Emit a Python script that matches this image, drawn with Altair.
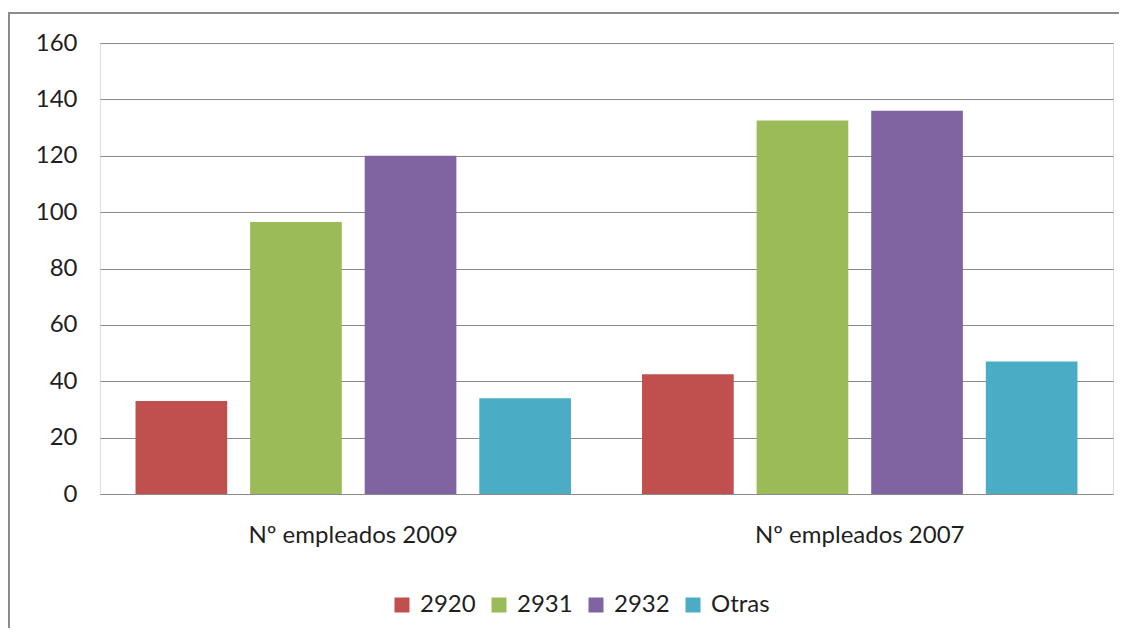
import altair as alt
import pandas as pd

groups = ["Nº empleados 2009", "Nº empleados 2007"]
series = ["2920", "2931", "2932", "Otras"]
values_2009 = [33, 96.5, 120, 34]
values_2007 = [42.5, 132.5, 136, 47]
colors = ["#C0504D", "#9BBB59", "#8064A2", "#4BACC6"]
y_ticks = [0, 20, 40, 60, 80, 100, 120, 140, 160]

rows = []
for g, vals in zip(groups, [values_2009, values_2007]):
    for s, v in zip(series, vals):
        rows.append({"grupo": g, "serie": s, "valor": v})
df = pd.DataFrame(rows)

FONT = "Lato"
TXT = "#1f1f1f"
FS = 24

bars = alt.Chart(df).mark_bar().encode(
    x=alt.X("grupo:N", sort=groups, title=None,
            scale=alt.Scale(paddingInner=0, paddingOuter=0),
            axis=alt.Axis(labelAngle=0, ticks=False, domain=False,
                          labelPadding=29, labelFontSize=FS, labelFont=FONT,
                          labelColor=TXT, grid=False, labelLimit=0)),
    xOffset=alt.XOffset("serie:N", sort=series,
                        scale=alt.Scale(paddingInner=0.2, paddingOuter=0.31)),
    y=alt.Y("valor:Q", title=None,
            scale=alt.Scale(domain=[0, 160], nice=False, zero=True),
            axis=alt.Axis(values=y_ticks, ticks=False, domain=False,
                          labelPadding=23, labelFontSize=FS, labelFont=FONT,
                          labelColor=TXT, gridColor="#8a8a8a", gridWidth=1.2,
                          gridOpacity=1)),
    color=alt.Color("serie:N", sort=series,
                    scale=alt.Scale(domain=series, range=colors),
                    legend=alt.Legend(title=None, orient="none",
                                      direction="horizontal",
                                      legendX=290, legendY=550,
                                      symbolType="square", symbolSize=225,
                                      symbolStrokeWidth=0,
                                      labelFontSize=FS, labelFont=FONT,
                                      labelColor=TXT, columnPadding=11,
                                      labelOffset=6, labelLimit=0)),
)

frame_df = pd.DataFrame({"k": [0]})
top_rule = alt.Chart(frame_df).mark_rule(color="#8c8c8c", strokeWidth=2).encode(
    x=alt.value(-93), x2=alt.value(1100), y=alt.value(-30)
)
left_rule = alt.Chart(frame_df).mark_rule(color="#8c8c8c", strokeWidth=2).encode(
    x=alt.value(-91), y=alt.value(-31), y2=alt.value(700)
)

chart = alt.layer(bars, top_rule, left_rule).properties(
    width=1013, height=451,
    autosize=alt.AutoSizeParams(type="none"),
    padding={"left": 92, "top": 35, "right": 6, "bottom": 134},
).configure_view(stroke=None).configure(background="white")

chart.save("out.html", embed_options={"renderer": "svg", "actions": False})
